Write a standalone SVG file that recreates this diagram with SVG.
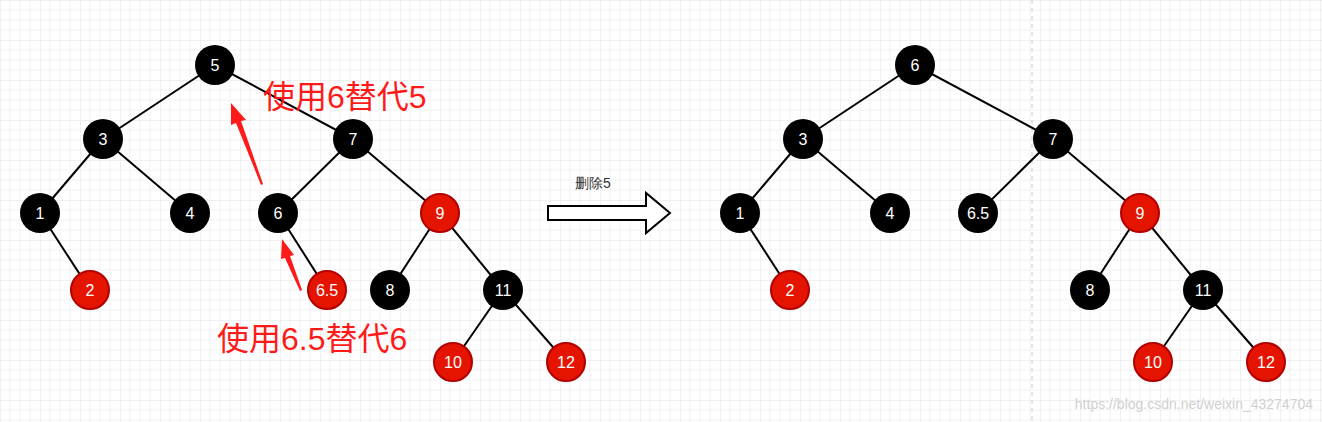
<svg xmlns="http://www.w3.org/2000/svg" width="1322" height="422" viewBox="0 0 1322 422">
<defs>
<pattern id="g" width="40" height="40" patternUnits="userSpaceOnUse">
<path d="M10 0V40M20 0V40M30 0V40M0 10H40M0 20H40M0 30H40" stroke="#f2f2f2" stroke-width="1" fill="none"/>
<path d="M0 0V40M0 0H40" stroke="#e2e2e2" stroke-width="1" fill="none"/>
</pattern>
<style>
.b{fill:#000}.r{fill:#e51400;stroke:#b20000;stroke-width:2}
text{font-family:"Liberation Sans",Arial,sans-serif}
.t{fill:#fff;font-size:16px;text-anchor:middle;dominant-baseline:central}
.e{stroke:#000;stroke-width:2}
.lab{fill:#ff1a1a;font-size:32px;font-family:"Liberation Sans","Noto Sans CJK SC",sans-serif}
</style>
</defs>
<rect width="1322" height="422" fill="#fff"/>
<rect width="1322" height="422" fill="url(#g)"/>
<line x1="1032" y1="0" x2="1032" y2="422" stroke="#ccc" stroke-dasharray="4 4"/>
<g id="edges" class="e">
<line x1="215" y1="65" x2="103" y2="139"/><line x1="215" y1="65" x2="353" y2="139"/>
<line x1="103" y1="139" x2="40" y2="213"/><line x1="103" y1="139" x2="190" y2="213"/>
<line x1="353" y1="139" x2="278" y2="213"/><line x1="353" y1="139" x2="440" y2="213"/>
<line x1="40" y1="213" x2="90" y2="290"/><line x1="278" y1="213" x2="327" y2="290"/>
<line x1="440" y1="213" x2="390" y2="290"/><line x1="440" y1="213" x2="503" y2="290"/>
<line x1="503" y1="290" x2="453" y2="362"/><line x1="503" y1="290" x2="566" y2="362"/>
<line x1="915" y1="65" x2="803" y2="139"/><line x1="915" y1="65" x2="1053" y2="139"/>
<line x1="803" y1="139" x2="740" y2="213"/><line x1="803" y1="139" x2="890" y2="213"/>
<line x1="1053" y1="139" x2="978" y2="213"/><line x1="1053" y1="139" x2="1140" y2="213"/>
<line x1="740" y1="213" x2="790" y2="290"/>
<line x1="1140" y1="213" x2="1090" y2="290"/><line x1="1140" y1="213" x2="1203" y2="290"/>
<line x1="1203" y1="290" x2="1153" y2="362"/><line x1="1203" y1="290" x2="1266" y2="362"/>
</g>
<g id="n5"><circle class="b" cx="215" cy="65" r="20"/><text class="t" x="215" y="65">5</text></g>
<g id="n3"><circle class="b" cx="103" cy="139" r="20"/><text class="t" x="103" y="139">3</text></g>
<g id="n7"><circle class="b" cx="353" cy="139" r="20"/><text class="t" x="353" y="139">7</text></g>
<g id="n1"><circle class="b" cx="40" cy="213" r="20"/><text class="t" x="40" y="213">1</text></g>
<g id="n4"><circle class="b" cx="190" cy="213" r="20"/><text class="t" x="190" y="213">4</text></g>
<g id="n6"><circle class="b" cx="278" cy="213" r="20"/><text class="t" x="278" y="213">6</text></g>
<g id="n9"><circle class="r" cx="440" cy="213" r="19"/><text class="t" x="440" y="213">9</text></g>
<g id="n2"><circle class="r" cx="90" cy="290" r="19"/><text class="t" x="90" y="290">2</text></g>
<g id="n65"><circle class="r" cx="327" cy="290" r="19"/><text class="t" x="327" y="290">6.5</text></g>
<g id="n8"><circle class="b" cx="390" cy="290" r="20"/><text class="t" x="390" y="290">8</text></g>
<g id="n11"><circle class="b" cx="503" cy="290" r="20"/><text class="t" x="503" y="290">11</text></g>
<g id="n10"><circle class="r" cx="453" cy="362" r="19"/><text class="t" x="453" y="362">10</text></g>
<g id="n12"><circle class="r" cx="566" cy="362" r="19"/><text class="t" x="566" y="362">12</text></g>
<g id="m6"><circle class="b" cx="915" cy="65" r="20"/><text class="t" x="915" y="65">6</text></g>
<g id="m3"><circle class="b" cx="803" cy="139" r="20"/><text class="t" x="803" y="139">3</text></g>
<g id="m7"><circle class="b" cx="1053" cy="139" r="20"/><text class="t" x="1053" y="139">7</text></g>
<g id="m1"><circle class="b" cx="740" cy="213" r="20"/><text class="t" x="740" y="213">1</text></g>
<g id="m4"><circle class="b" cx="890" cy="213" r="20"/><text class="t" x="890" y="213">4</text></g>
<g id="m65"><circle class="b" cx="978" cy="213" r="20"/><text class="t" x="978" y="213">6.5</text></g>
<g id="m9"><circle class="r" cx="1140" cy="213" r="19"/><text class="t" x="1140" y="213">9</text></g>
<g id="m2"><circle class="r" cx="790" cy="290" r="19"/><text class="t" x="790" y="290">2</text></g>
<g id="m8"><circle class="b" cx="1090" cy="290" r="20"/><text class="t" x="1090" y="290">8</text></g>
<g id="m11"><circle class="b" cx="1203" cy="290" r="20"/><text class="t" x="1203" y="290">11</text></g>
<g id="m10"><circle class="r" cx="1153" cy="362" r="19"/><text class="t" x="1153" y="362">10</text></g>
<g id="m12"><circle class="r" cx="1266" cy="362" r="19"/><text class="t" x="1266" y="362">12</text></g>
<g id="notes">
<polygon points="231,103 246,120 241,121 263,184 261,185 236,123 231,125" fill="#ff1a1a"/>
<polygon points="282,239 294,255 290,256 302,290 300,291 285,258 281,259" fill="#ff1a1a"/>
<text class="lab" x="263" y="108">使用6替代5</text>
<text class="lab" x="217" y="350">使用6.5替代6</text>
</g>
<g id="bigarrow">
<polygon points="548,206 646,206 646,193 670,213 646,233 646,220 548,220" fill="#fff" stroke="#000" stroke-width="2"/>
<text x="575" y="188" font-size="14" fill="#333" font-family="Liberation Sans,Noto Sans CJK SC,sans-serif">删除5</text>
</g>
<text x="1313" y="409" font-size="14" fill="#d0d0d0" text-anchor="end">https://blog.csdn.net/weixin_43274704</text>
</svg>
